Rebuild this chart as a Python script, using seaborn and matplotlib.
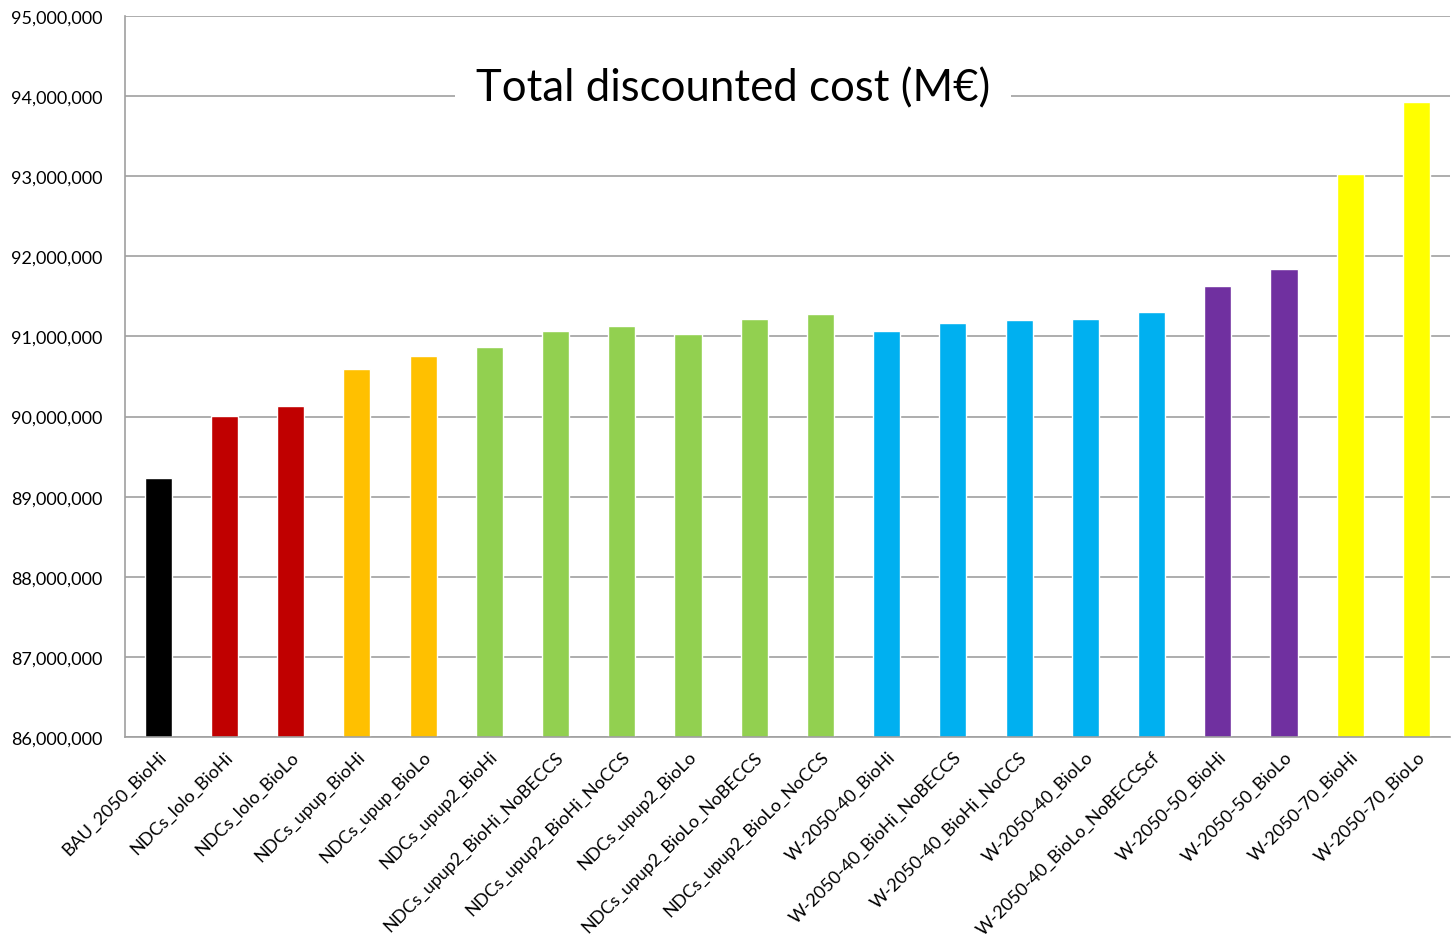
import pandas as pd
import matplotlib.pyplot as plt
import matplotlib.ticker as mticker
import seaborn as sns

scenarios = ['BAU_2050_BioHi', 'NDCs_lolo_BioHi', 'NDCs_lolo_BioLo', 'NDCs_upup_BioHi',
             'NDCs_upup_BioLo', 'NDCs_upup2_BioHi', 'NDCs_upup2_BioHi_NoBECCS',
             'NDCs_upup2_BioHi_NoCCS', 'NDCs_upup2_BioLo', 'NDCs_upup2_BioLo_NoBECCS',
             'NDCs_upup2_BioLo_NoCCS', 'W-2050-40_BioHi', 'W-2050-40_BioHi_NoBECCS',
             'W-2050-40_BioHi_NoCCS', 'W-2050-40_BioLo', 'W-2050-40_BioLo_NoBECCScf',
             'W-2050-50_BioHi', 'W-2050-50_BioLo', 'W-2050-70_BioHi', 'W-2050-70_BioLo']
costs = [89230000, 90010000, 90130000, 90590000, 90760000, 90870000, 91070000,
         91130000, 91030000, 91220000, 91280000, 91070000, 91170000, 91210000,
         91220000, 91310000, 91630000, 91840000, 93030000, 93930000]
groups = ['BAU', 'lolo', 'lolo', 'upup', 'upup', 'upup2', 'upup2', 'upup2', 'upup2',
          'upup2', 'upup2', 'W40', 'W40', 'W40', 'W40', 'W40', 'W50', 'W50', 'W70', 'W70']
group_colors = {'BAU': '#000000', 'lolo': '#C00000', 'upup': '#FFC000', 'upup2': '#92D050',
                'W40': '#00B0F0', 'W50': '#7030A0', 'W70': '#FFFF00'}

df = pd.DataFrame({'scenario': scenarios, 'cost': costs, 'group': groups})

sns.set_style('white')
plt.rcParams['font.family'] = ['Lato', 'DejaVu Sans']

fig = plt.figure(figsize=(14.54, 9.37), dpi=100)
ax = fig.add_axes([0.086, 0.2124, 0.911, 0.7695])

sns.barplot(data=df, x='scenario', y='cost', hue='group', palette=group_colors,
            dodge=False, width=0.41, legend=False, ax=ax, saturation=1)

ax.set_ylim(86000000, 95000000)
ax.set_xlim(-0.5, len(scenarios) - 0.5)
ax.yaxis.set_major_locator(mticker.MultipleLocator(1000000))
ax.yaxis.set_major_formatter(mticker.StrMethodFormatter('{x:,.0f}'))
ax.grid(axis='y', color='#a0a0a0', linewidth=1.2)
ax.set_axisbelow(True)

for side in ['top', 'right']:
    ax.spines[side].set_visible(False)
for side in ['left', 'bottom']:
    ax.spines[side].set_color('#a0a0a0')
    ax.spines[side].set_linewidth(1.2)

# category tick marks sit between the bars, like the Excel original
ax.set_xticks(range(len(scenarios)))
ax.set_xticklabels(scenarios, rotation=45, ha='right', rotation_mode='anchor',
                   fontsize=13, color='black')
ax.set_xticks([i - 0.5 for i in range(len(scenarios) + 1)], minor=True)
ax.tick_params(axis='x', which='major', length=0, pad=8)
ax.tick_params(axis='x', which='minor', length=7, color='#a0a0a0', width=1.2, direction='out')
ax.tick_params(axis='y', length=7, color='#a0a0a0', width=1.2, direction='out',
               labelsize=13, labelcolor='black', pad=9)
ax.set_xlabel('')
ax.set_ylabel('')

ax.text(0.459, 0.9, 'Total discounted cost (M\u20ac)', transform=ax.transAxes,
        ha='center', va='center', fontsize=31.5, color='black',
        bbox=dict(facecolor='white', edgecolor='none', pad=15))

fig.savefig('out.png', dpi=100)
